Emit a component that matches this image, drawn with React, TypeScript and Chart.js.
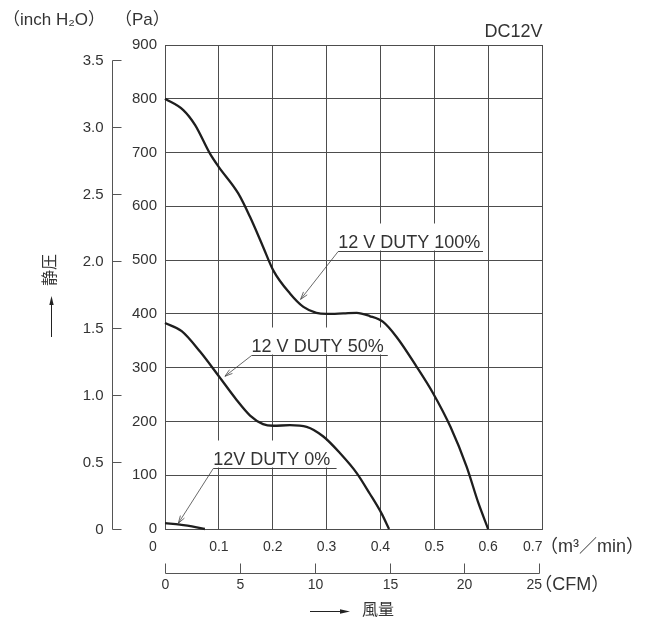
import React, { useEffect, useRef } from 'react';
import { Chart, registerables } from 'chart.js';

Chart.register(...registerables);

// ---- data ----
const flowTicks = [0, 0.1, 0.2, 0.3, 0.4, 0.5, 0.6, 0.7];
const flowTickLabels = ['0', '0.1', '0.2', '0.3', '0.4', '0.5', '0.6', '0.7'];
const cfmTicks = [0, 5, 10, 15, 20, 25];
const inchTicks = [0, 0.5, 1.0, 1.5, 2.0, 2.5, 3.0, 3.5];
const inchTickLabels = ['0', '0.5', '1.0', '1.5', '2.0', '2.5', '3.0', '3.5'];
const PA_PER_INCH = 249.089;

const flow100 = [0, 0.034, 0.056, 0.0835, 0.1, 0.136, 0.158, 0.182, 0.201, 0.232, 0.257, 0.281, 0.3, 0.331, 0.356, 0.38, 0.405, 0.43, 0.467, 0.498, 0.53, 0.56, 0.582, 0.6];
const pa100 = [800, 779, 751, 698, 673, 624, 580, 525, 481, 438, 413, 402, 400, 401, 402, 396, 385, 357, 302, 252, 190, 116, 48, 0];

const flow50 = [0, 0.031, 0.065, 0.1, 0.133, 0.158, 0.182, 0.201, 0.232, 0.263, 0.294, 0.325, 0.356, 0.38, 0.402, 0.416];
const pa50 = [383, 368, 330, 284, 240, 211, 195, 192, 193, 190, 172, 141, 104, 66, 29, 0];

const flow0 = [0, 0.028, 0.05, 0.074];
const pa0 = [11, 8, 5, 0];

const labelTexts = ['12 V DUTY 100%', '12 V DUTY 50%', '12V DUTY 0%'];
const labelStartFlow = [0.3215, 0.1608, 0.0896];
const labelEndFlow = [0.5905, 0.4137, 0.3186];
const labelPa = [517, 323, 113];
const tipFlow = [0.2518, 0.1113, 0.0247];
const tipPa = [427, 284, 10.6];

const FONT = "'Liberation Sans', 'Noto Sans CJK JP', Arial, sans-serif";
const TEXT = '#333333';
const GRID = '#4d4d4d';
const CURVE = '#1e1e1e';

function openArrow(ctx: CanvasRenderingContext2D, fx: number, fy: number, tx: number, ty: number, len: number, spread: number) {
  const a = Math.atan2(ty - fy, tx - fx);
  ctx.beginPath();
  ctx.moveTo(tx - len * Math.cos(a - spread), ty - len * Math.sin(a - spread));
  ctx.lineTo(tx, ty);
  ctx.lineTo(tx - len * Math.cos(a + spread), ty - len * Math.sin(a + spread));
  ctx.stroke();
}

function filledArrow(ctx: CanvasRenderingContext2D, fx: number, fy: number, tx: number, ty: number, len: number, half: number) {
  const a = Math.atan2(ty - fy, tx - fx);
  const bx = tx - len * Math.cos(a), by = ty - len * Math.sin(a);
  ctx.beginPath();
  ctx.moveTo(fx, fy);
  ctx.lineTo(bx, by);
  ctx.stroke();
  ctx.beginPath();
  ctx.moveTo(tx, ty);
  ctx.lineTo(bx + half * Math.sin(a), by - half * Math.cos(a));
  ctx.lineTo(bx - half * Math.sin(a), by + half * Math.cos(a));
  ctx.closePath();
  ctx.fill();
}

const overlay = {
  id: 'overlay',
  beforeDatasetsDraw(chart: any) {
    // white backing under the curve labels: hides grid lines, stays below curves
    const ctx: CanvasRenderingContext2D = chart.ctx;
    const x = chart.scales.x;
    const y = chart.scales.y;
    ctx.save();
    ctx.fillStyle = '#ffffff';
    labelTexts.forEach((_t, i) => {
      const x0 = x.getPixelForValue(labelStartFlow[i]);
      const x1 = x.getPixelForValue(labelEndFlow[i]);
      const uy = Math.round(y.getPixelForValue(labelPa[i])) + 0.5;
      ctx.fillRect(x0 - 2, uy - 28, x1 - x0 + 3, 27);
    });
    ctx.restore();
  },
  afterDraw(chart: any) {
    const ctx: CanvasRenderingContext2D = chart.ctx;
    const x = chart.scales.x;
    const y = chart.scales.y;
    const yi = chart.scales.yInch;
    const xc = chart.scales.xCfm;
    const area = chart.chartArea;
    ctx.save();

    // m3/min tick labels
    ctx.fillStyle = TEXT;
    ctx.font = `14px ${FONT}`;
    ctx.textBaseline = 'middle';
    const lx = area.bottom + 18;
    flowTicks.forEach((v, i) => {
      const px = x.getPixelForValue(v);
      if (i === 0) {
        ctx.textAlign = 'center';
        ctx.fillText(flowTickLabels[i], px - 12, lx);
      } else if (i === flowTicks.length - 1) {
        ctx.textAlign = 'right';
        ctx.fillText(flowTickLabels[i], px + 0.5, lx);
      } else {
        ctx.textAlign = 'center';
        ctx.fillText(flowTickLabels[i], px, lx);
      }
    });
    ctx.textAlign = 'left';
    ctx.font = `18px ${FONT}`;
    ctx.fillText('（m³／min）', x.getPixelForValue(0.7) - 2, lx);

    // CFM axis
    ctx.strokeStyle = '#555';
    ctx.lineWidth = 1;
    const cy = Math.round(area.bottom + 44) + 0.5;
    ctx.beginPath();
    ctx.moveTo(Math.round(xc.getPixelForValue(0)) + 0.5, cy);
    ctx.lineTo(Math.round(xc.getPixelForValue(25)) + 0.5, cy);
    ctx.stroke();
    ctx.font = `14px ${FONT}`;
    cfmTicks.forEach((v, i) => {
      const px = Math.round(xc.getPixelForValue(v)) + 0.5;
      ctx.beginPath();
      ctx.moveTo(px, cy);
      ctx.lineTo(px, cy - 10);
      ctx.stroke();
      ctx.textAlign = i === cfmTicks.length - 1 ? 'right' : 'center';
      ctx.fillText(String(v), i === cfmTicks.length - 1 ? px + 2.5 : px, cy + 12);
    });
    ctx.textAlign = 'left';
    ctx.font = `18px ${FONT}`;
    ctx.fillText('（CFM）', xc.getPixelForValue(25) - 5, cy + 12);

    // inch H2O axis
    const ax = 112.5;
    ctx.beginPath();
    ctx.moveTo(ax, Math.round(yi.getPixelForValue(0)) + 0.5);
    ctx.lineTo(ax, Math.round(yi.getPixelForValue(3.5)) + 0.5);
    ctx.stroke();
    ctx.font = `15px ${FONT}`;
    ctx.textAlign = 'right';
    inchTicks.forEach((v, i) => {
      const py = Math.round(yi.getPixelForValue(v)) + 0.5;
      ctx.beginPath();
      ctx.moveTo(ax, py);
      ctx.lineTo(ax + 9, py);
      ctx.stroke();
      ctx.fillText(inchTickLabels[i], ax - 9, py);
    });

    // unit titles
    ctx.font = `17px ${FONT}`;
    ctx.textAlign = 'left';
    ctx.fillText('（inch H₂O）', 3, 20);
    ctx.fillText('（Pa）', 115, 20);
    ctx.font = `18px ${FONT}`;
    ctx.textAlign = 'right';
    ctx.fillText('DC12V', area.right + 0.5, 32);

    // y title with arrow
    ctx.fillStyle = '#222';
    ctx.strokeStyle = '#222';
    filledArrow(ctx, 51.5, 337, 51.5, 296, 9, 2.2);
    ctx.save();
    ctx.translate(51, 270);
    ctx.rotate(-Math.PI / 2);
    ctx.textAlign = 'center';
    ctx.font = `16px ${FONT}`;
    ctx.fillStyle = TEXT;
    ctx.fillText('静圧', 0, 0);
    ctx.restore();

    // x title with arrow
    filledArrow(ctx, 310, 611.5, 350, 611.5, 10, 2.2);
    ctx.fillStyle = TEXT;
    ctx.textAlign = 'left';
    ctx.font = `16px ${FONT}`;
    ctx.fillText('風量', 362, 611);

    // curve labels
    labelTexts.forEach((t, i) => {
      const x0 = x.getPixelForValue(labelStartFlow[i]);
      const x1 = x.getPixelForValue(labelEndFlow[i]);
      const uy = Math.round(y.getPixelForValue(labelPa[i])) + 0.5;
      ctx.fillStyle = TEXT;
      ctx.font = `18px ${FONT}`;
      ctx.textAlign = 'left';
      ctx.textBaseline = 'alphabetic';
      ctx.fillText(t, x0, uy - 4);
      ctx.strokeStyle = '#444';
      ctx.lineWidth = 1;
      ctx.beginPath();
      ctx.moveTo(x0, uy);
      ctx.lineTo(x1, uy);
      ctx.stroke();
      const tx = x.getPixelForValue(tipFlow[i]);
      const ty = y.getPixelForValue(tipPa[i]);
      ctx.lineWidth = 0.8;
      ctx.beginPath();
      ctx.moveTo(x0, uy);
      ctx.lineTo(tx, ty);
      ctx.stroke();
      openArrow(ctx, x0, uy, tx, ty, 8, 0.3);
    });

    ctx.restore();
  },
};

function toPoints(xs: number[], ys: number[]) {
  return xs.map((v, i) => ({ x: v, y: ys[i] }));
}

export default function App() {
  const ref = useRef<HTMLCanvasElement | null>(null);
  useEffect(() => {
    if (!ref.current) return;
    const ds = (data: { x: number; y: number }[]) => ({
      data,
      borderColor: CURVE,
      borderWidth: 2.3,
      pointRadius: 0,
      fill: false,
      cubicInterpolationMode: 'monotone' as const,
      clip: false as const,
    });
    const chart = new Chart(ref.current, {
      type: 'line',
      data: {
        datasets: [
          ds(toPoints(flow100, pa100)),
          ds(toPoints(flow50, pa50)),
          ds(toPoints(flow0, pa0)),
        ],
      },
      options: {
        responsive: false,
        animation: false,
        devicePixelRatio: 1,
        layout: { padding: { left: 0, right: 120, top: 45, bottom: 0 } },
        plugins: { legend: { display: false }, tooltip: { enabled: false } },
        scales: {
          x: {
            type: 'linear',
            position: 'bottom',
            min: 0,
            max: 0.7,
            ticks: { display: false, stepSize: 0.1 },
            grid: { color: GRID, lineWidth: 1, drawTicks: false },
            border: { display: true, color: GRID },
            afterFit: (s: any) => { s.height = 93; },
          },
          xCfm: {
            type: 'linear',
            position: 'bottom',
            display: false,
            min: 0,
            max: 25.18,
          },
          y: {
            type: 'linear',
            position: 'left',
            min: 0,
            max: 900,
            ticks: { stepSize: 100, color: TEXT, padding: 8, font: { family: FONT, size: 15 } },
            grid: { color: GRID, lineWidth: 1, drawTicks: false },
            border: { display: true, color: GRID },
            afterFit: (s: any) => { s.width = 165; },
          },
          yInch: {
            type: 'linear',
            position: 'left',
            display: false,
            min: 0,
            max: 900 / PA_PER_INCH,
          },
        },
      },
      plugins: [overlay],
    } as any);
    return () => chart.destroy();
  }, []);
  return (
    <div style={{ position: 'absolute', left: 0, top: 0, width: 662, height: 622, background: '#fff' }}>
      <canvas ref={ref} width={662} height={622} />
    </div>
  );
}
